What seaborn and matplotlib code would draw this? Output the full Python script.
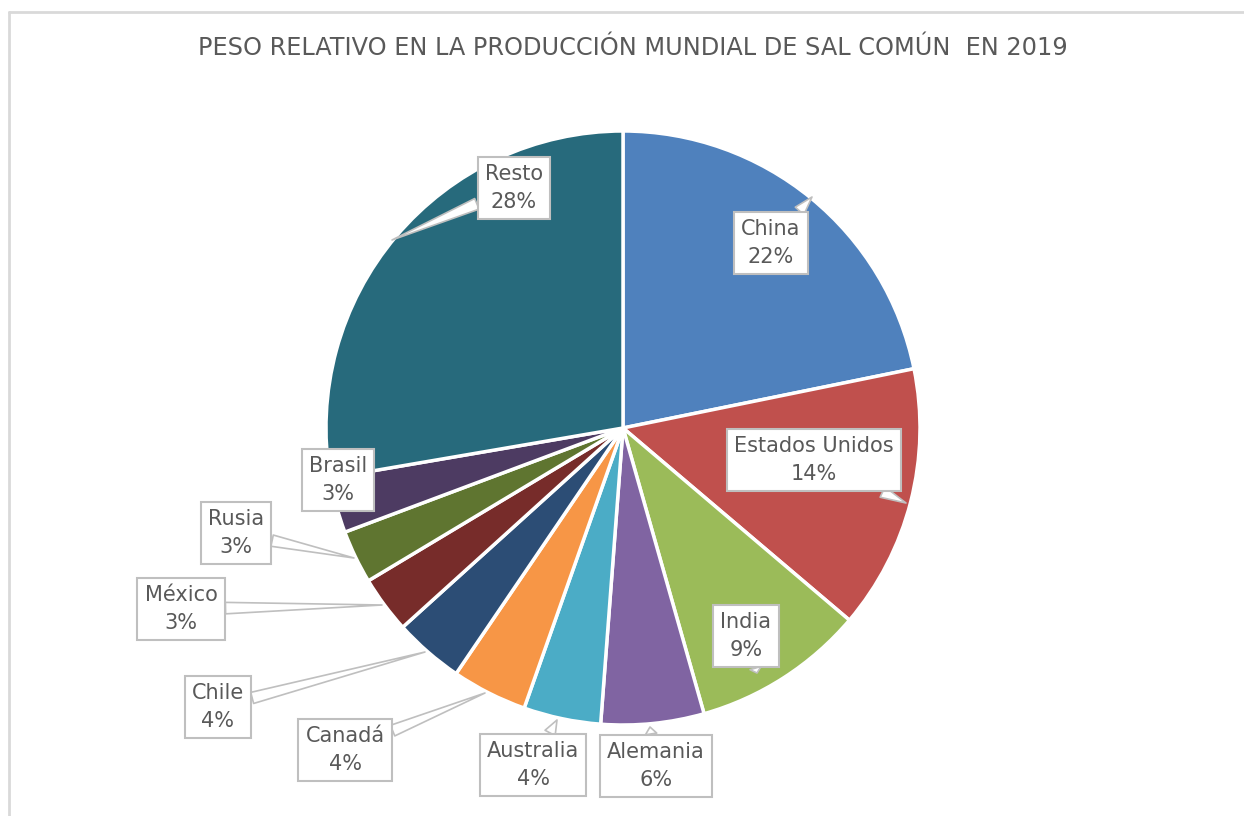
import seaborn as sns
import matplotlib
matplotlib.use("Agg")
import matplotlib.pyplot as plt

# datos (% de la producción mundial)
paises = ["China", "Estados Unidos", "India", "Alemania", "Australia", "Canadá",
          "Chile", "México", "Rusia", "Brasil", "Resto"]
peso = [21.8, 14.4, 9.4, 5.6, 4.2, 4.1, 3.8, 3.1, 2.9, 3.0, 27.7]
colores = ["#4F81BD", "#C0504D", "#9BBB59", "#8064A2", "#4BACC6", "#F79646",
           "#2C4D75", "#772C2A", "#5F7530", "#4D3B62", "#276A7C"]

# posición de las etiquetas (caja) y punta del conector, en píxeles desde arriba
etiqueta_xy = [(771, 243), (814, 460), (746, 636), (656, 766), (533, 765), (345, 750),
               (218, 707), (181, 609), (236, 533), (338, 480), (514, 188)]
punta_xy = [(812, 197), (906, 503), (757, 673), (650, 727), (557, 720), (485, 693),
            (425, 652), (382, 605), (354, 558), None, (392, 240)]

W, H = 1244, 816
GRIS = "#595959"

sns.set_theme(style="white")
plt.rcParams["font.family"] = ["DejaVu Sans"]

fig = plt.figure(figsize=(W / 100, H / 100), dpi=100)
ax = fig.add_axes([0, 0, 1, 1])

ax.pie(peso, colors=colores, startangle=90, counterclock=False,
       center=(623, H - 428), radius=297, frame=True,
       wedgeprops=dict(edgecolor="white", linewidth=2.5))

for nombre, v, (tx, ty), punta in zip(paises, peso, etiqueta_xy, punta_xy):
    texto = f"{nombre}\n{round(v)}%"
    caja = dict(boxstyle="square,pad=0.35", fc="white", ec="#BFBFBF", lw=1.5)
    if punta is None:
        ax.text(tx, H - ty, texto, ha="center", va="center", fontsize=15,
                color=GRIS, linespacing=1.5, bbox=caja, zorder=5)
    else:
        ax.annotate(texto, xy=(punta[0], H - punta[1]), xytext=(tx, H - ty),
                    ha="center", va="center", fontsize=15, color=GRIS,
                    linespacing=1.5, bbox=caja, zorder=5,
                    arrowprops=dict(arrowstyle="wedge,tail_width=0.55",
                                    fc="white", ec="#BFBFBF", lw=1.2,
                                    shrinkA=0, shrinkB=0))

ax.text(633, H - 48, "PESO RELATIVO EN LA PRODUCCIÓN MUNDIAL DE SAL COMÚN  EN 2019",
        ha="center", va="center", fontsize=17.3, color=GRIS)

# borde del área del gráfico
ax.plot([9, 9], [-10, H - 12], color="#D9D9D9", lw=2, clip_on=False)
ax.plot([9, W + 10], [H - 12, H - 12], color="#D9D9D9", lw=2, clip_on=False)

ax.set_xlim(0, W)
ax.set_ylim(0, H)
ax.set_aspect("equal")
ax.axis("off")

fig.savefig("out.png", dpi=100, facecolor="white")
